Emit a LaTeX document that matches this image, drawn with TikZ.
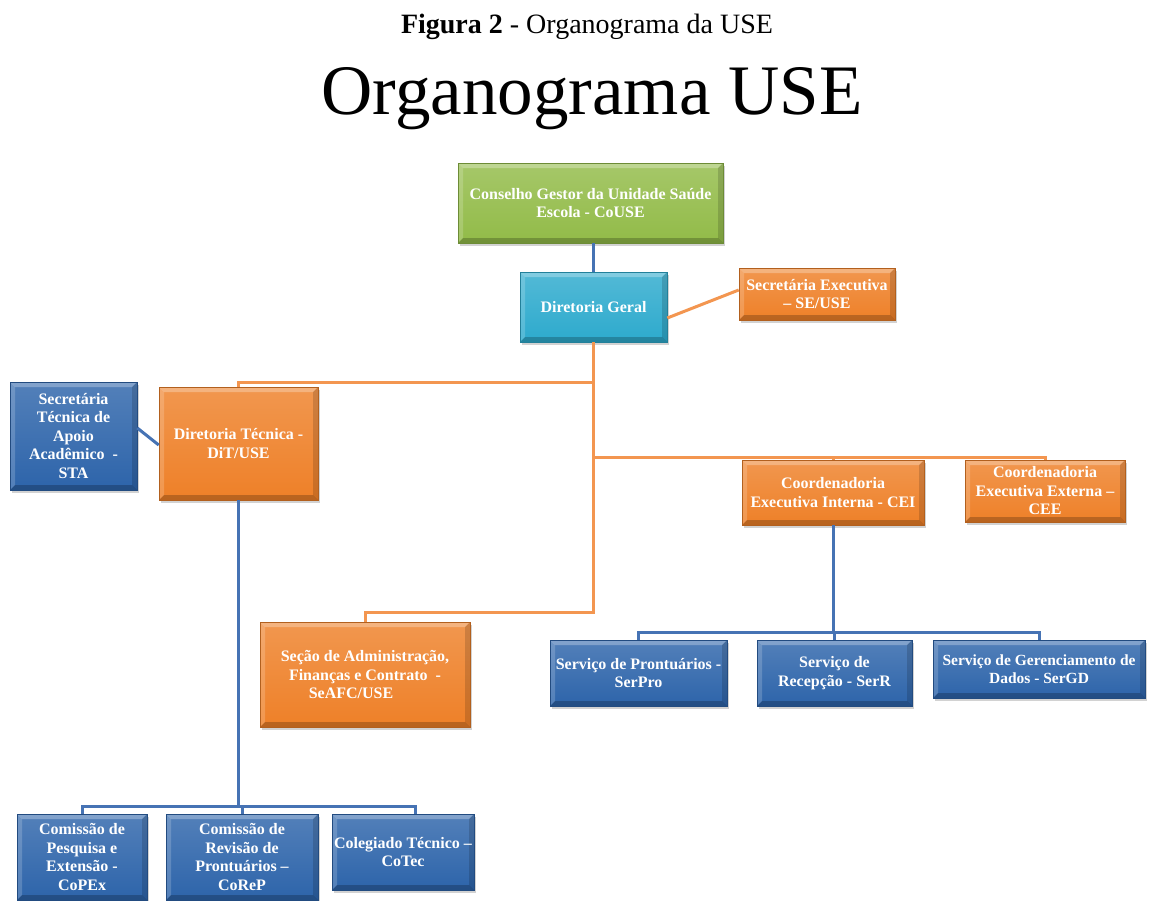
\documentclass[tikz,border=0pt]{standalone}
\usepackage{fontspec}
\setmainfont{Liberation Serif}
\usetikzlibrary{shadows}
\definecolor{cgreen}{RGB}{146,187,72}
\definecolor{ccyan}{RGB}{45,170,205}
\definecolor{corange}{RGB}{238,128,40}
\definecolor{cblue}{RGB}{45,100,170}
\definecolor{lorange}{RGB}{243,150,80}
\definecolor{lblue}{RGB}{70,115,180}
\newcommand{\boxfont}{\fontsize{16}{18.5}\selectfont\bfseries}
\tikzset{
  bevel/.style={path picture={
    \fill[white,opacity=0.28] (path picture bounding box.north west) -- (path picture bounding box.north east) -- ([shift={(-5pt,-5pt)}]path picture bounding box.north east) -- ([shift={(5pt,-5pt)}]path picture bounding box.north west) -- cycle;
    \fill[white,opacity=0.18] (path picture bounding box.north west) -- (path picture bounding box.south west) -- ([shift={(5pt,5pt)}]path picture bounding box.south west) -- ([shift={(5pt,-5pt)}]path picture bounding box.north west) -- cycle;
    \fill[black,opacity=0.22] (path picture bounding box.south west) -- (path picture bounding box.south east) -- ([shift={(-5pt,5pt)}]path picture bounding box.south east) -- ([shift={(5pt,5pt)}]path picture bounding box.south west) -- cycle;
    \fill[black,opacity=0.15] (path picture bounding box.north east) -- (path picture bounding box.south east) -- ([shift={(-5pt,5pt)}]path picture bounding box.south east) -- ([shift={(-5pt,-5pt)}]path picture bounding box.north east) -- cycle;
  }},
  orgbox/.style={draw=#1!75!black, line width=0.6pt, top color=#1!82!white, bottom color=#1, inner sep=0pt,
    align=center, text=white, font=\boxfont, bevel,
    drop shadow={shadow xshift=2pt, shadow yshift=-3pt, opacity=0.35}},
  olink/.style={draw=lorange, line width=3pt},
  blink/.style={draw=lblue, line width=3pt},
}
\begin{document}
\begin{tikzpicture}[x=1pt,y=-1pt]
\useasboundingbox[fill=white] (0,0) rectangle (1150,900);

\node[anchor=base, font=\fontsize{28}{32}\selectfont] (cap) at (587,33) {\textbf{Figura 2} - Organograma da USE};
\node[anchor=base, font=\fontsize{71}{80}\selectfont] (title) at (592,114) {Organograma USE};

% boxes
\node[orgbox=cgreen, minimum width=265pt, minimum height=80pt] (couse) at (590.5,203) {Conselho Gestor da Unidade Saúde\\Escola - CoUSE};
\node[orgbox=ccyan, minimum width=147pt, minimum height=70pt] (dg) at (593.5,307) {Diretoria Geral};
\node[orgbox=corange, minimum width=156pt, minimum height=52pt] (se) at (817,294) {Secretária Executiva\\– SE/USE};
\node[orgbox=cblue, minimum width=127pt, minimum height=108pt] (sta) at (73.5,436) {Secretária\\Técnica de\\Apoio\\Acadêmico \ -\\STA};
\node[orgbox=corange, minimum width=159pt, minimum height=113pt] (dit) at (238.5,443.5) {Diretoria Técnica -\\DiT/USE};
\node[orgbox=corange, minimum width=182pt, minimum height=65pt] (cei) at (833,492.5) {Coordenadoria\\Executiva Interna - CEI};
\node[orgbox=corange, minimum width=160pt, minimum height=62pt] (cee) at (1045,491) {Coordenadoria\\Executiva Externa –\\CEE};
\node[orgbox=corange, minimum width=210pt, minimum height=105pt] (seafc) at (365,674.5) {Seção de Administração,\\Finanças e Contrato \ -\\SeAFC/USE\hspace*{28pt}};
\node[orgbox=cblue, minimum width=177pt, minimum height=66pt] (serpro) at (638.5,673) {Serviço de Prontuários -\\SerPro};
\node[orgbox=cblue, minimum width=155pt, minimum height=66pt] (serr) at (834.5,673) {Serviço de\\Recepção - SerR};
\node[orgbox=cblue, minimum width=212pt, minimum height=58pt, font=\fontsize{15.5}{18.5}\selectfont\bfseries] (sergd) at (1039,669) {Serviço de Gerenciamento de\\Dados - SerGD};
\node[orgbox=cblue, minimum width=130pt, minimum height=86pt] (copex) at (82,857) {Comissão de\\Pesquisa e\\Extensão -\\CoPEx};
\node[orgbox=cblue, minimum width=152pt, minimum height=86pt] (corep) at (242,857) {Comissão de\\Revisão de\\Prontuários –\\CoReP};
\node[orgbox=cblue, minimum width=142pt, minimum height=76pt] (cotec) at (403,852) {Colegiado Técnico –\\CoTec};

% bar levels
\coordinate (barA) at (0,382);
\coordinate (barB) at (0,457);
\coordinate (barS) at (0,612);
\coordinate (barC) at (0,632);
\coordinate (barD) at (0,806);

% connectors
\draw[blink] (dg.north |- couse.south) -- (dg.north);
\draw[olink] ([yshift=-11pt]dg.east) -- ([yshift=4pt]se.west);
\draw[olink] (dg.south) -- (dg.south |- barS) -- (seafc.north |- barS) -- (seafc.north);
\draw[olink] (dg.south |- barA) -- (dit.north |- barA) -- (dit.north);
\draw[olink] (dg.south |- barB) -- (cee.north |- barB) -- (cee.north);
\draw[olink] (cei.north |- barB) -- (cei.north);
\draw[blink] ([yshift=8pt]sta.east) -- ([yshift=-1.5pt]dit.west);
\draw[blink] (dit.south) -- (dit.south |- barD);
\draw[blink] (copex.north) -- (copex.north |- barD) -- ([xshift=12pt]cotec.north |- barD) -- ([xshift=12pt]cotec.north);
\draw[blink] (corep.north) -- (corep.north |- barD);
\draw[blink] (cei.south) -- (cei.south |- barC);
\draw[blink] (serpro.north) -- (serpro.north |- barC) -- (sergd.north |- barC) -- (sergd.north);
\draw[blink] (serr.north) -- (serr.north |- barC);
\end{tikzpicture}
\end{document}
